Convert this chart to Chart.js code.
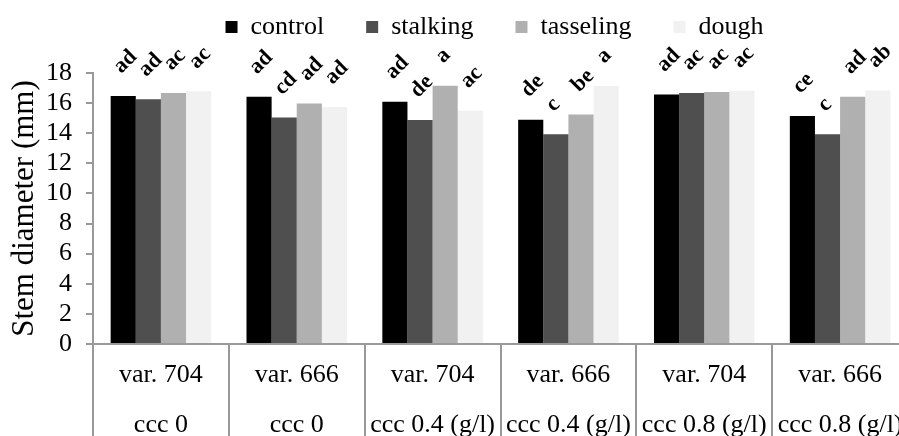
<!DOCTYPE html>
<html>
<head>
<meta charset="utf-8">
<script src="https://cdn.jsdelivr.net/npm/chart.js"></script>
<style>
html, body { margin: 0; padding: 0; background: #fff; overflow: hidden; }
#wrap { width: 910px; height: 436px; position: relative; }
</style>
</head>
<body>
<div id="wrap"><canvas id="chart"></canvas></div>
<script>
const varieties = ['var. 704', 'var. 666', 'var. 704', 'var. 666', 'var. 704', 'var. 666'];
const treatments = ['ccc 0', 'ccc 0', 'ccc 0.4 (g/l)', 'ccc 0.4 (g/l)', 'ccc 0.8 (g/l)', 'ccc 0.8 (g/l)'];
const seriesNames = ['control', 'stalking', 'tasseling', 'dough'];

const control   = [16.47, 16.42, 16.09, 14.90, 16.57, 15.14];
const stalking  = [16.25, 15.05, 14.87, 13.94, 16.67, 13.94];
const tasseling = [16.67, 15.98, 17.15, 15.25, 16.73, 16.42];
const dough     = [16.78, 15.74, 15.50, 17.13, 16.82, 16.84];

const controlLetters   = ['ad', 'ad', 'ad', 'de', 'ad', 'ce'];
const stalkingLetters  = ['ad', 'cd', 'de', 'c', 'ac', 'c'];
const tasselingLetters = ['ac', 'ad', 'a', 'be', 'ac', 'ad'];
const doughLetters     = ['ac', 'ad', 'ac', 'a', 'ac', 'ab'];

const yMin = 0, yMax = 18, yStep = 2;

const SERIF = "'Liberation Serif', 'Times New Roman', serif";
const colors = ['#000000', '#4f4f4f', '#b0b0b0', '#f1f1f1'];
const axisGray = '#999999';

const labels = varieties.map((v, i) => [v, treatments[i]]);

// letters drawn above bars, rotated 45 degrees
const letterPlugin = {
    id: 'letters',
    afterDatasetsDraw(chart) {
        const ctx = chart.ctx;
        ctx.save();
        ctx.font = 'bold 22px ' + SERIF;
        ctx.fillStyle = '#000';
        ctx.textAlign = 'left';
        ctx.textBaseline = 'middle';
        chart.data.datasets.forEach((ds, di) => {
            const meta = chart.getDatasetMeta(di);
            meta.data.forEach((bar, i) => {
                ctx.save();
                ctx.translate(bar.x - 6, bar.y - 26);
                ctx.rotate(-Math.PI / 4);
                ctx.fillText(ds.letters[i], 0, 0);
                ctx.restore();
            });
        });
        ctx.restore();
    }
};

// vertical separators between the category groups, down to the bottom
const dividerPlugin = {
    id: 'dividers',
    afterDraw(chart) {
        const x = chart.scales.x;
        const ctx = chart.ctx;
        const half = (x.getPixelForValue(1) - x.getPixelForValue(0)) / 2;
        ctx.save();
        ctx.strokeStyle = axisGray;
        ctx.lineWidth = 2;
        for (let i = 0; i <= labels.length; i++) {
            const px = Math.round(x.getPixelForValue(i) - half);
            ctx.beginPath();
            ctx.moveTo(px, x.top);
            ctx.lineTo(px, chart.height);
            ctx.stroke();
        }
        ctx.restore();
    }
};

// simple legend row on top
const legendPlugin = {
    id: 'topLegend',
    afterDraw(chart) {
        const ctx = chart.ctx;
        const box = 12, gap = 42;
        ctx.save();
        ctx.font = '26px ' + SERIF;
        ctx.textBaseline = 'middle';
        const items = chart.data.datasets.map(ds => ({
            text: ds.label, color: ds.backgroundColor,
            w: box + 13 + ctx.measureText(ds.label).width
        }));
        const total = items.reduce((s, it) => s + it.w, 0) + gap * (items.length - 1);
        let x = (chart.chartArea.left + chart.chartArea.right) / 2 - total / 2 - 6;
        const y = 27;
        items.forEach(it => {
            ctx.fillStyle = it.color;
            ctx.fillRect(x, y - box / 2, box, box);
            ctx.fillStyle = '#000';
            ctx.fillText(it.text, x + box + 13, y);
            x += it.w + gap;
        });
        ctx.restore();
    }
};

const series = [control, stalking, tasseling, dough];
const letters = [controlLetters, stalkingLetters, tasselingLetters, doughLetters];

new Chart(document.getElementById('chart'), {
    type: 'bar',
    data: {
        labels: labels,
        datasets: series.map((vals, i) => ({
            label: seriesNames[i],
            data: vals,
            letters: letters[i],
            backgroundColor: colors[i],
            borderWidth: 0,
            categoryPercentage: 0.74,
            barPercentage: 1.0
        }))
    },
    options: {
        responsive: true,
        maintainAspectRatio: false,
        animation: false,
        layout: { padding: { top: 73, left: 0, right: 2, bottom: 0 } },
        plugins: {
            legend: { display: false },
            tooltip: { enabled: false }
        },
        scales: {
            x: {
                grid: { display: false, drawTicks: false },
                border: { color: axisGray, width: 2 },
                ticks: {
                    color: '#000',
                    padding: 6,
                    maxRotation: 0,
                    autoSkip: false,
                    font: { family: SERIF, size: 26, lineHeight: '50px' }
                },
                afterFit(scale) { scale.height = 92; }
            },
            y: {
                min: yMin,
                max: yMax,
                ticks: {
                    stepSize: yStep,
                    autoSkip: false,
                    color: '#000',
                    padding: 14,
                    font: { family: SERIF, size: 26 }
                },
                grid: { drawOnChartArea: false, color: axisGray, lineWidth: 2, tickLength: 7 },
                border: { color: axisGray, width: 2 },
                title: {
                    display: true,
                    text: 'Stem diameter (mm)',
                    color: '#000',
                    padding: { top: 6, bottom: 0 },
                    font: { family: SERIF, size: 31 }
                },
                afterFit(scale) { scale.width = 93; }
            }
        }
    },
    plugins: [letterPlugin, dividerPlugin, legendPlugin]
});
</script>
</body>
</html>
